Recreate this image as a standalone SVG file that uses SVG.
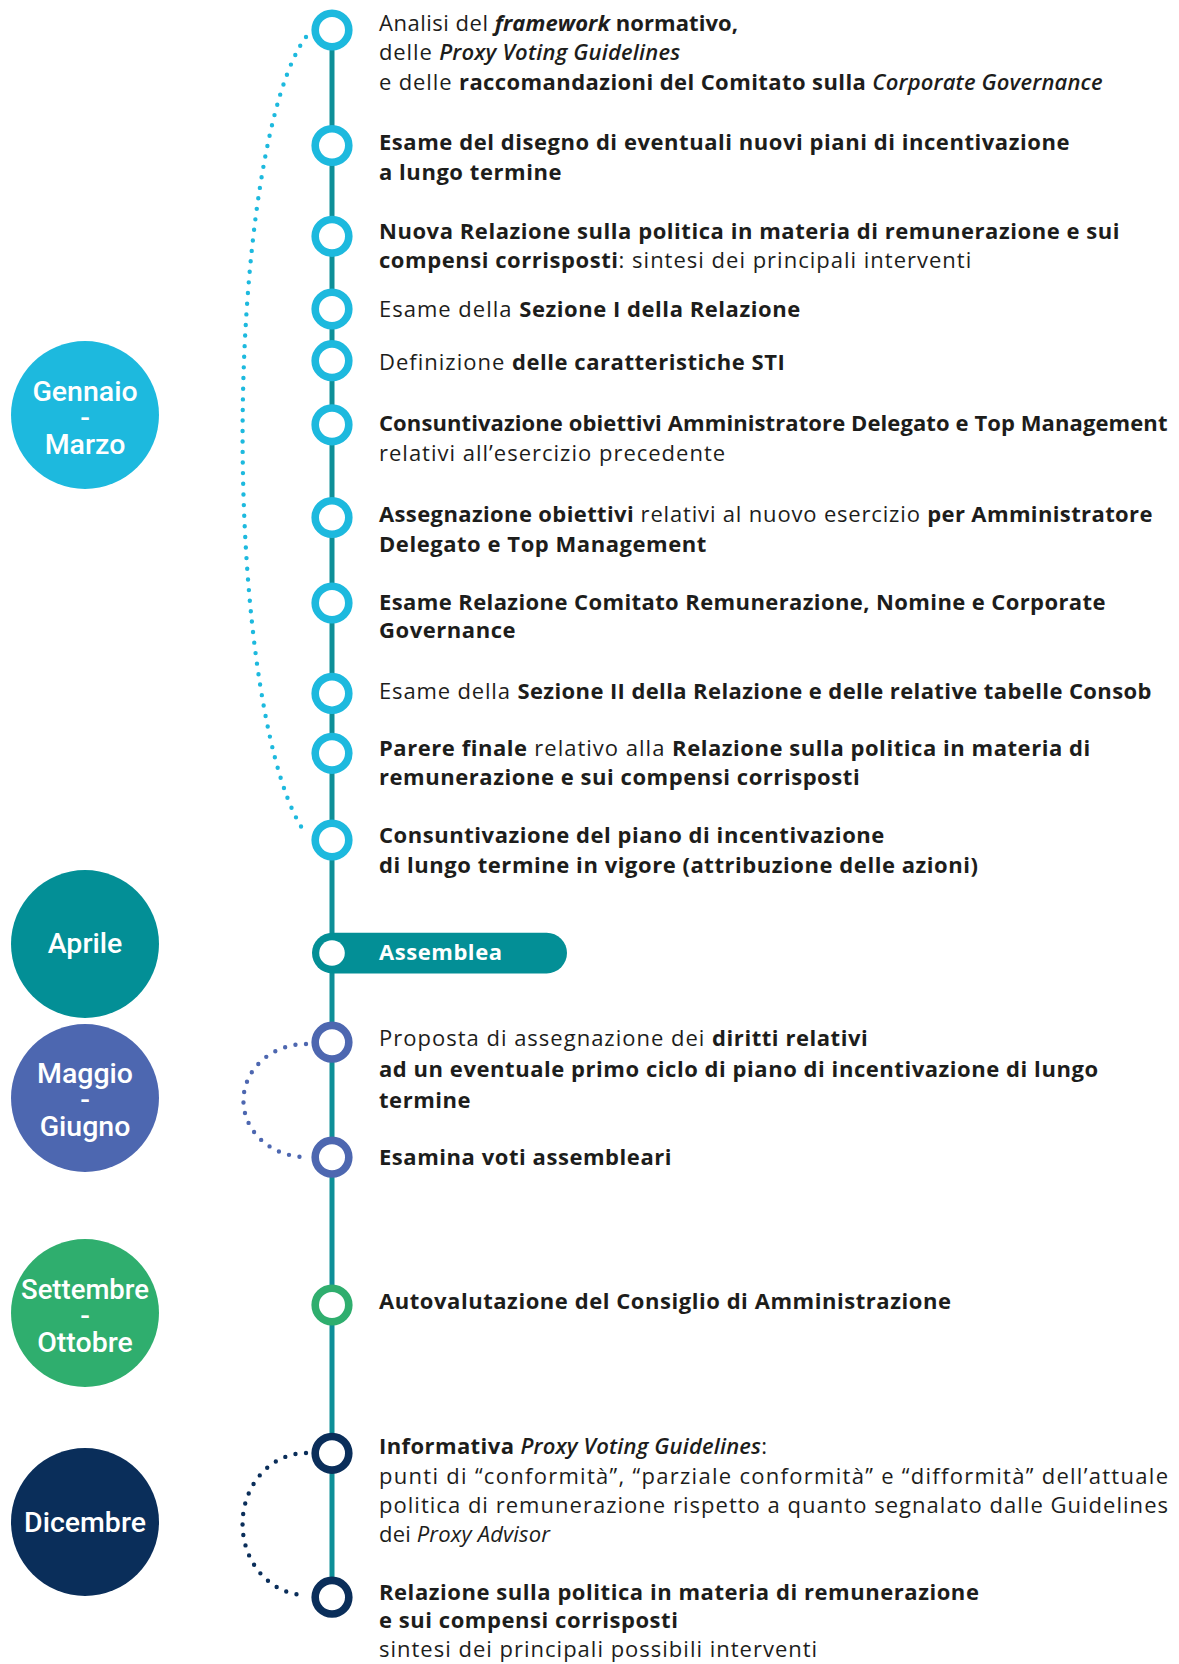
<svg xmlns="http://www.w3.org/2000/svg" width="1179" height="1664" viewBox="0 0 1179 1664">
<style>
.t{font-family:"Open Sans","Noto Sans",sans-serif;font-size:22px;fill:#1d1d1b;font-weight:400;letter-spacing:1px}
.b{font-weight:700;letter-spacing:0.55px}
.i{font-style:italic}
.sb{font-weight:600;letter-spacing:0.3px}
.m{font-family:Roboto,"Noto Sans",sans-serif;font-size:28.5px;font-weight:500;fill:#ffffff;text-anchor:middle}
.ring{fill:#ffffff;stroke-width:7.6}
.cy{stroke:#1DB9DE}
.bl{stroke:#4D67B0}
.gr{stroke:#2FAE6E}
.nv{stroke:#0A2E5A}
.dot{fill:none;stroke-width:4.4;stroke-linecap:round;stroke-dasharray:0 10.6}
</style>
<rect width="1179" height="1664" fill="#ffffff"/>
<g id="connectors">
  <line x1="332" y1="30" x2="332" y2="1597" stroke="#0E8F98" stroke-width="5"/>
  <path class="dot" stroke="#1DB9DE" d="M 306 37 A 87 414 0 0 0 306 834"/>
  <path class="dot" stroke="#4D67B0" d="M 306 1044 A 62 56 0 0 0 306 1157"/>
  <path class="dot" stroke="#0A2E5A" d="M 306 1453 A 63 70.5 0 0 0 306 1595"/>
</g>
<g id="month-gennaio-marzo">
  <circle cx="85" cy="415" r="74" fill="#1DB9DE"/>
  <text class="m"><tspan x="85" y="401">Gennaio</tspan><tspan x="85" y="427">-</tspan><tspan x="85" y="454">Marzo</tspan></text>
</g>
<g id="month-aprile">
  <circle cx="85" cy="944" r="74" fill="#038F96"/>
  <text class="m" x="85" y="953">Aprile</text>
</g>
<g id="month-maggio-giugno">
  <circle cx="85" cy="1098" r="74" fill="#4D67B0"/>
  <text class="m"><tspan x="85" y="1083">Maggio</tspan><tspan x="85" y="1109">-</tspan><tspan x="85" y="1136">Giugno</tspan></text>
</g>
<g id="month-settembre-ottobre">
  <circle cx="85" cy="1313" r="74" fill="#2FAE6E"/>
  <text class="m"><tspan x="85" y="1299" textLength="128" lengthAdjust="spacingAndGlyphs">Settembre</tspan><tspan x="85" y="1325">-</tspan><tspan x="85" y="1352">Ottobre</tspan></text>
</g>
<g id="month-dicembre">
  <circle cx="85" cy="1522" r="74" fill="#0A2E5A"/>
  <text class="m" x="85" y="1532">Dicembre</text>
</g>

<g id="n1">
  <circle class="ring cy" cx="332" cy="30" r="16.8"/>
  <text class="t" x="379" y="30.5" textLength="359.5" lengthAdjust="spacing">Analisi del <tspan class="b i">framework</tspan><tspan class="b"> normativo,</tspan></text>
  <text class="t" x="379" y="60" textLength="301.5" lengthAdjust="spacing">delle <tspan class="sb i">Proxy Voting Guidelines</tspan></text>
  <text class="t" x="379" y="89.5" textLength="724" lengthAdjust="spacing">e delle <tspan class="b">raccomandazioni del Comitato sulla </tspan><tspan class="sb i">Corporate Governance</tspan></text>
</g>
<g id="n2">
  <circle class="ring cy" cx="332" cy="145.5" r="16.8"/>
  <text class="t b" x="379" y="150">Esame del disegno di eventuali nuovi piani di incentivazione</text>
  <text class="t b" x="379" y="180.3">a lungo termine</text>
</g>
<g id="n3">
  <circle class="ring cy" cx="332" cy="236.3" r="16.8"/>
  <text class="t b" x="379" y="238.7">Nuova Relazione sulla politica in materia di remunerazione e sui</text>
  <text class="t" x="379" y="267.7"><tspan class="b">compensi corrisposti</tspan>: sintesi dei principali interventi</text>
</g>
<g id="n4">
  <circle class="ring cy" cx="332" cy="309" r="16.8"/>
  <text class="t" x="379" y="316.7">Esame della <tspan class="b">Sezione I della Relazione</tspan></text>
</g>
<g id="n5">
  <circle class="ring cy" cx="332" cy="360.7" r="16.8"/>
  <text class="t" x="379" y="370">Definizione <tspan class="b">delle caratteristiche STI</tspan></text>
</g>
<g id="n6">
  <circle class="ring cy" cx="332" cy="424.8" r="16.8"/>
  <text class="t b" x="379" y="430.7" textLength="789" lengthAdjust="spacing">Consuntivazione obiettivi Amministratore Delegato e Top Management</text>
  <text class="t" x="379" y="460.7">relativi all’esercizio precedente</text>
</g>
<g id="n7">
  <circle class="ring cy" cx="332" cy="517.5" r="16.8"/>
  <text class="t" x="379" y="521.7" textLength="774" lengthAdjust="spacing"><tspan class="b">Assegnazione obiettivi</tspan> relativi al nuovo esercizio <tspan class="b">per Amministratore</tspan></text>
  <text class="t b" x="379" y="552.3">Delegato e Top Management</text>
</g>
<g id="n8">
  <circle class="ring cy" cx="332" cy="603" r="16.8"/>
  <text class="t b" x="379" y="610" textLength="727" lengthAdjust="spacing">Esame Relazione Comitato Remunerazione, Nomine e Corporate</text>
  <text class="t b" x="379" y="638.3">Governance</text>
</g>
<g id="n9">
  <circle class="ring cy" cx="332" cy="693.4" r="16.8"/>
  <text class="t" x="379" y="699.3" textLength="773" lengthAdjust="spacing">Esame della <tspan class="b">Sezione II della Relazione e delle relative tabelle Consob</tspan></text>
</g>
<g id="n10">
  <circle class="ring cy" cx="332" cy="753.3" r="16.8"/>
  <text class="t" x="379" y="756"><tspan class="b">Parere finale</tspan> relativo alla <tspan class="b">Relazione sulla politica in materia di</tspan></text>
  <text class="t b" x="379" y="785">remunerazione e sui compensi corrisposti</text>
</g>
<g id="n11">
  <circle class="ring cy" cx="332" cy="840" r="16.8"/>
  <text class="t b" x="379" y="843.3">Consuntivazione del piano di incentivazione</text>
  <text class="t b" x="379" y="872.7">di lungo termine in vigore (attribuzione delle azioni)</text>
</g>
<g id="assemblea">
  <rect x="312" y="932.7" width="255" height="40.7" rx="20.35" fill="#038F96"/>
  <circle cx="332" cy="953" r="12.8" fill="#ffffff"/>
  <text class="t b" x="379" y="960" style="fill:#ffffff">Assemblea</text>
</g>
<g id="n12">
  <circle class="ring bl" cx="332" cy="1042.2" r="16.8"/>
  <text class="t" x="379" y="1045.7">Proposta di assegnazione dei <tspan class="b">diritti relativi</tspan></text>
  <text class="t b" x="379" y="1076.7">ad un eventuale primo ciclo di piano di incentivazione di lungo</text>
  <text class="t b" x="379" y="1108.3">termine</text>
</g>
<g id="n13">
  <circle class="ring bl" cx="332" cy="1157.2" r="16.8"/>
  <text class="t b" x="379" y="1165">Esamina voti assembleari</text>
</g>
<g id="n14">
  <circle class="ring gr" cx="332" cy="1305" r="16.8"/>
  <text class="t b" x="379" y="1309.3">Autovalutazione del Consiglio di Amministrazione</text>
</g>
<g id="n15">
  <circle class="ring nv" cx="332" cy="1453.3" r="16.8"/>
  <text class="t" x="379" y="1454" textLength="389" lengthAdjust="spacing"><tspan class="b">Informativa </tspan><tspan class="sb i">Proxy Voting Guidelines</tspan>:</text>
  <text class="t" x="379" y="1484" textLength="790" lengthAdjust="spacing">punti di “conformità”, “parziale conformità” e “difformità” dell’attuale</text>
  <text class="t" x="379" y="1512.7" textLength="790" lengthAdjust="spacing">politica di remunerazione rispetto a quanto segnalato dalle Guidelines</text>
  <text class="t" x="379" y="1542.3" textLength="172" lengthAdjust="spacing">dei <tspan class="i">Proxy Advisor</tspan></text>
</g>
<g id="n16">
  <circle class="ring nv" cx="332" cy="1597.2" r="16.8"/>
  <text class="t b" x="379" y="1600">Relazione sulla politica in materia di remunerazione</text>
  <text class="t b" x="379" y="1628.3">e sui compensi corrisposti</text>
  <text class="t" x="379" y="1656.7">sintesi dei principali possibili interventi</text>
</g>
</svg>
